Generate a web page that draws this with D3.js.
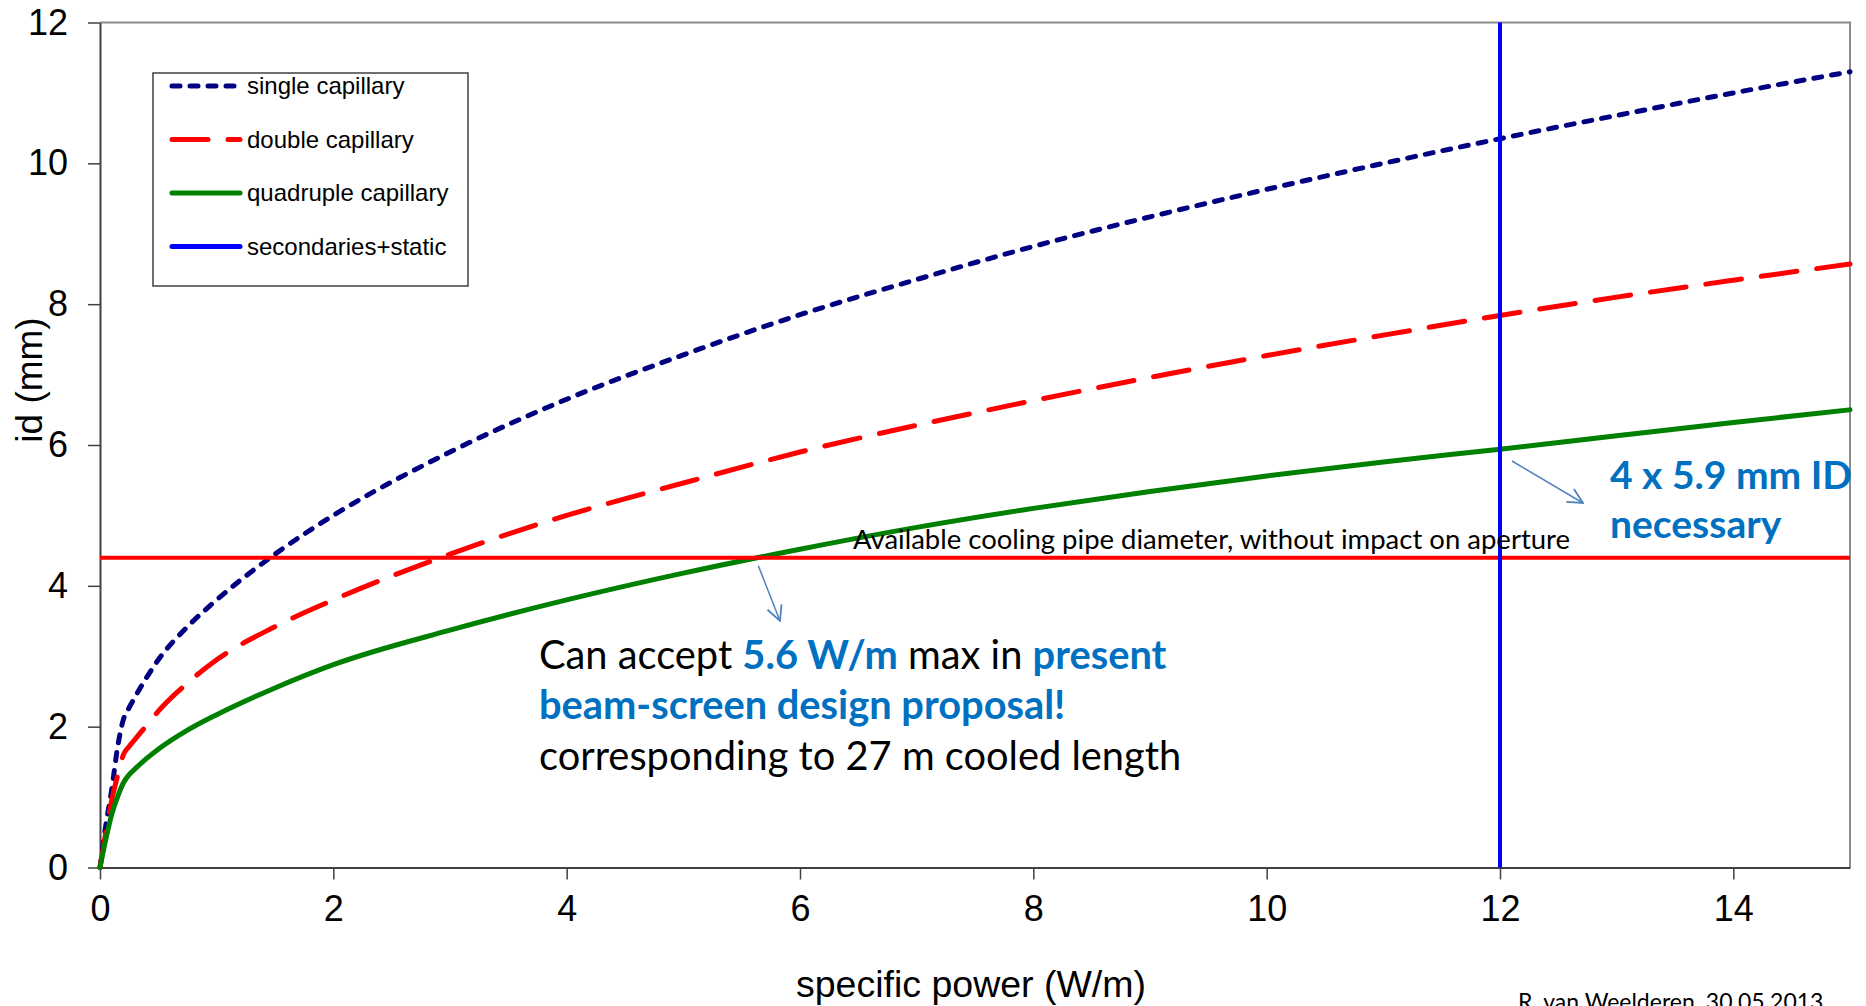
<!DOCTYPE html>
<html>
<head>
<meta charset="utf-8">
<script src="https://cdn.jsdelivr.net/npm/d3@7"></script>
<style>
  html, body { margin: 0; padding: 0; background: #fff; }
  svg { display: block; }
</style>
</head>
<body>
<div id="container"></div>
<script>
// values
const power = [0, 0.05, 0.1, 0.15, 0.2, 0.25, 0.3, 0.4, 0.5, 0.75, 1, 1.5, 2, 3, 4, 5, 6, 7, 8, 9, 10, 11, 12, 13, 14, 15];
const singleCap = [0, 0.6, 1.1, 1.7, 2.1, 2.27, 2.42, 2.7, 2.95, 3.42, 3.8, 4.45, 5.0, 5.9, 6.65, 7.28, 7.85, 8.35, 8.82, 9.24, 9.63, 10.0, 10.35, 10.68, 11.0, 11.3];
const doubleCap = [0, 0.5, 0.95, 1.3, 1.6, 1.72, 1.82, 2.02, 2.22, 2.62, 2.95, 3.42, 3.8, 4.45, 5.0, 5.46, 5.9, 6.28, 6.63, 6.96, 7.27, 7.56, 7.84, 8.1, 8.34, 8.57];
const quadCap = [0, 0.4, 0.75, 1.0, 1.2, 1.32, 1.4, 1.55, 1.68, 1.95, 2.17, 2.55, 2.88, 3.37, 3.8, 4.18, 4.52, 4.83, 5.1, 5.34, 5.56, 5.76, 5.94, 6.13, 6.32, 6.5];
const secondariesX = 12;      // secondaries+static
const availableId = 4.4;      // available cooling pipe diameter
const acceptPoint = [5.6, 4.4];
const xTicks = [0, 2, 4, 6, 8, 10, 12, 14];
const yTicks = [0, 2, 4, 6, 8, 10, 12];

const legendItems = [
    { name: 'single capillary', color: '#000080', dash: '8,10' },
    { name: 'double capillary', color: '#FF0000', dash: '36,20' },
    { name: 'quadruple capillary', color: '#008000', dash: null },
    { name: 'secondaries+static', color: '#0000FF', dash: null }
];

const W = 1866, H = 1006;
const plot = { left: 100, top: 22.5, right: 1850, bottom: 867.5 };

let viz = d3.select('#container')
    .append('svg')
    .attr('width', W)
    .attr('height', H);

let x = d3.scaleLinear().domain([0, 15]).range([plot.left, plot.right]);
let y = d3.scaleLinear().domain([0, 12]).range([plot.bottom, plot.top]);

// frame (top / right in grey)
viz.append('path')
    .attr('d', `M${plot.left},${plot.top}H${plot.right}V${plot.bottom}`)
    .attr('fill', 'none')
    .attr('stroke', '#8c8c8c')
    .attr('stroke-width', 2);

// axes
let xAxis = viz.append('g')
    .attr('transform', `translate(0,${plot.bottom})`)
    .call(d3.axisBottom(x).tickValues(xTicks).tickSize(12).tickPadding(16).tickSizeOuter(0));
let yAxis = viz.append('g')
    .attr('transform', `translate(${plot.left},0)`)
    .call(d3.axisLeft(y).tickValues(yTicks).tickSize(12).tickPadding(20).tickSizeOuter(0));

[xAxis, yAxis].forEach(a => {
    a.select('.domain').attr('stroke', '#404040').attr('stroke-width', 2);
    a.selectAll('.tick line').attr('stroke', '#404040').attr('stroke-width', 1.5);
    a.selectAll('.tick text')
        .attr('font-family', 'Liberation Sans, Arial, sans-serif')
        .attr('font-size', 36)
        .attr('fill', '#000');
});

// axis titles
viz.append('text')
    .text('specific power (W/m)')
    .attr('x', 971)
    .attr('y', 997)
    .attr('text-anchor', 'middle')
    .attr('font-family', 'Liberation Sans, Arial, sans-serif')
    .attr('font-size', 37.5);

viz.append('text')
    .text('id (mm)')
    .attr('transform', 'translate(42,380) rotate(-90)')
    .attr('text-anchor', 'middle')
    .attr('font-family', 'Liberation Sans, Arial, sans-serif')
    .attr('font-size', 37);

// curves
let line = d3.line()
    .x(d => x(d[0]))
    .y(d => y(d[1]))
    .curve(d3.curveMonotoneX);

const series = [singleCap, doubleCap, quadCap];
series.forEach((vals, i) => {
    viz.append('path')
        .datum(power.map((p, j) => [p, vals[j]]))
        .attr('d', line)
        .attr('fill', 'none')
        .attr('stroke', legendItems[i].color)
        .attr('stroke-width', 5)
        .attr('stroke-linecap', 'round')
        .attr('stroke-dasharray', legendItems[i].dash);
});

// available diameter line
viz.append('line')
    .attr('x1', x(0)).attr('x2', x(15))
    .attr('y1', y(availableId)).attr('y2', y(availableId))
    .attr('stroke', '#FF0000')
    .attr('stroke-width', 4);

// secondaries + static
viz.append('line')
    .attr('x1', x(secondariesX)).attr('x2', x(secondariesX))
    .attr('y1', y(0)).attr('y2', y(12))
    .attr('stroke', '#0000FF')
    .attr('stroke-width', 4);

// legend
let legend = viz.append('g').attr('transform', 'translate(153,73)');
legend.append('rect')
    .attr('width', 315)
    .attr('height', 213)
    .attr('fill', '#fff')
    .attr('stroke', '#404040')
    .attr('stroke-width', 1.5);

let legendRows = legend.selectAll('.row').data(legendItems)
    .enter()
    .append('g')
    .attr('class', 'row')
    .attr('transform', (d, i) => `translate(0,${13 + i * 53.5})`);

legendRows.append('line')
    .attr('x1', 19).attr('x2', 87)
    .attr('stroke', d => d.color)
    .attr('stroke-width', 5)
    .attr('stroke-linecap', 'round')
    .attr('stroke-dasharray', (d, i) => i === 0 ? '8,10' : (i === 1 ? '36,20' : null));

legendRows.append('text')
    .text(d => d.name)
    .attr('x', 94)
    .attr('y', 8)
    .attr('font-family', 'Liberation Sans, Arial, sans-serif')
    .attr('font-size', 24);

// annotations
const noteFont = 'Lato, "Open Sans", sans-serif';
const noteBlue = '#0070C0';
const arrowColor = '#4F81BD';

viz.append('defs').append('marker')
    .attr('id', 'arrow')
    .attr('viewBox', '0 0 12 12')
    .attr('refX', 11).attr('refY', 6)
    .attr('markerWidth', 18).attr('markerHeight', 18)
    .attr('markerUnits', 'userSpaceOnUse')
    .attr('orient', 'auto')
    .append('path')
    .attr('d', 'M1,1L11,6L1,11')
    .attr('fill', 'none')
    .attr('stroke', arrowColor)
    .attr('stroke-width', 1.2);

viz.append('text')
    .text('Available cooling pipe diameter, without impact on aperture')
    .attr('x', 853)
    .attr('y', 549)
    .attr('font-family', noteFont)
    .attr('font-size', 27.5)
    .attr('fill', '#000');

viz.append('line')
    .attr('x1', x(acceptPoint[0]) + 5).attr('y1', y(acceptPoint[1]) + 8)
    .attr('x2', 780).attr('y2', 621)
    .attr('stroke', arrowColor)
    .attr('stroke-width', 1.5)
    .attr('marker-end', 'url(#arrow)');

viz.append('line')
    .attr('x1', x(secondariesX) + 12).attr('y1', 461)
    .attr('x2', 1583).attr('y2', 503)
    .attr('stroke', arrowColor)
    .attr('stroke-width', 1.5)
    .attr('marker-end', 'url(#arrow)');

let note = viz.append('text')
    .attr('font-family', noteFont)
    .attr('font-size', 39.8);
let l1 = note.append('tspan').attr('x', 539).attr('y', 669);
l1.append('tspan').text('Can accept ');
l1.append('tspan').text('5.6 W/m').attr('fill', noteBlue).attr('font-weight', 'bold');
l1.append('tspan').text(' max in ');
l1.append('tspan').text('present').attr('fill', noteBlue).attr('font-weight', 'bold');
note.append('tspan').attr('x', 539).attr('y', 719)
    .text('beam-screen design proposal!').attr('fill', noteBlue).attr('font-weight', 'bold');
note.append('tspan').attr('x', 539).attr('y', 770)
    .text('corresponding to 27 m cooled length');

let need = viz.append('text')
    .attr('font-family', noteFont)
    .attr('font-size', 39)
    .attr('font-weight', 'bold')
    .attr('fill', noteBlue);
need.append('tspan').attr('x', 1610).attr('y', 489).text('4 x 5.9 mm ID');
need.append('tspan').attr('x', 1610).attr('y', 538).text('necessary');

viz.append('text')
    .text('R. van Weelderen, 30.05.2013')
    .attr('x', 1518)
    .attr('y', 1010)
    .attr('font-family', noteFont)
    .attr('font-size', 23);
</script>
</body>
</html>
